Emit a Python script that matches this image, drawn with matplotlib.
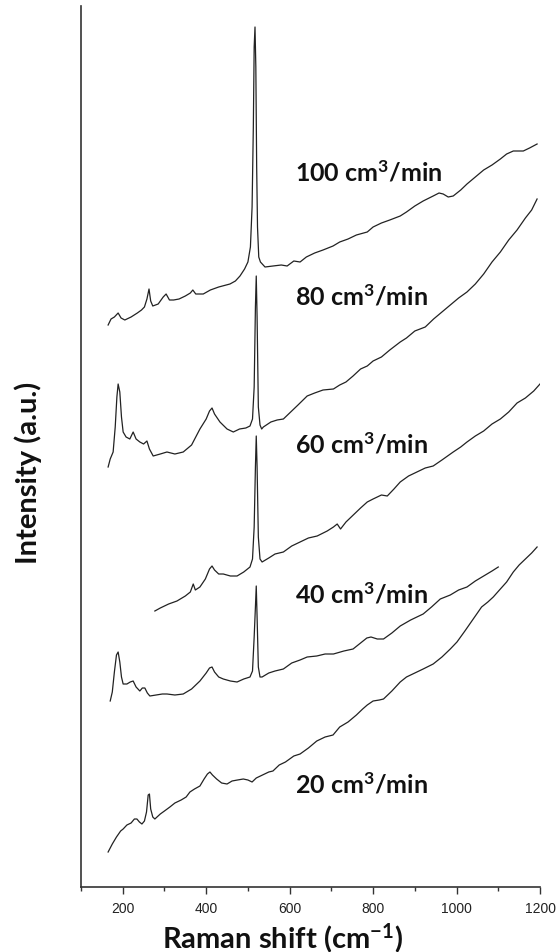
import matplotlib
matplotlib.use('Agg')
import matplotlib.pyplot as plt

plt.rcParams['font.family'] = ['Lato', 'DejaVu Sans']
plt.rcParams['mathtext.fontset'] = 'custom'
plt.rcParams['mathtext.rm'] = 'Lato:bold'
plt.rcParams['mathtext.default'] = 'rm'

# Raman spectra, offset-stacked (intensity in arbitrary units)
x_100 = [165, 172, 180, 189, 196, 205, 220, 235, 245, 252, 258, 263, 267, 272, 285, 297, 304, 312,
         322, 335, 350, 362, 368, 375, 393, 410, 430, 457, 470, 481, 492, 500, 506, 510, 513, 515,
         517, 519, 521, 523, 526, 530, 541, 560, 580, 594, 610, 625, 640, 660, 680, 704, 720, 740,
         760, 786, 800, 820, 840, 865, 880, 900, 920, 944, 958, 968, 980, 992, 1010, 1025, 1045,
         1065, 1085, 1105, 1120, 1136, 1148, 1160, 1175, 1193]
y_100 = [562, 568, 570, 574, 569, 567, 570, 574, 577, 580, 588, 598, 586, 581, 583, 590, 593, 587,
         587, 588, 591, 594, 597, 593, 593, 597, 600, 603, 606, 611, 618, 625, 640, 680, 760, 840,
         860, 820, 720, 660, 630, 625, 620, 621, 622, 621, 626, 625, 630, 634, 637, 641, 645, 648,
         652, 655, 660, 664, 667, 671, 675, 681, 686, 691, 694, 693, 690, 691, 697, 703, 710,
         717, 722, 728, 733, 736, 736, 736, 739, 743]

x_80 = [165, 170, 177, 182, 186, 189, 193, 197, 201, 208, 217, 225, 232, 241, 250, 258, 264, 273,
        290, 306, 325, 345, 365, 385, 400, 408, 414, 420, 433, 450, 465, 480, 495, 505, 511, 515,
        518, 520, 522, 525, 529, 533, 537, 555, 570, 585, 600, 620, 642, 660, 680, 705, 720, 735,
        752, 770, 786, 800, 820, 840, 865, 880, 900, 925, 945, 965, 985, 1005, 1025, 1045, 1065,
        1085, 1105, 1125, 1145, 1165, 1180, 1193]
y_80 = [420, 428, 435, 460, 490, 503, 495, 470, 455, 450, 448, 455, 448, 445, 443, 446, 438, 431,
        433, 435, 433, 435, 442, 458, 468, 476, 479, 473, 465, 458, 455, 458, 459, 461, 468, 500,
        580, 611, 570, 480, 462, 458, 460, 465, 467, 468, 474, 482, 491, 494, 497, 498, 502, 505,
        511, 518, 521, 526, 530, 537, 545, 549, 556, 560, 568, 575, 582, 589, 595, 603, 613,
        625, 635, 647, 657, 669, 677, 688]

x_60 = [277, 290, 310, 330, 350, 362, 369, 374, 385, 398, 408, 414, 420, 430, 441, 458, 474, 490,
        505, 511, 515, 518, 520, 522, 525, 529, 534, 550, 565, 585, 605, 625, 645, 666, 690, 705,
        714, 722, 735, 750, 770, 786, 800, 820, 834, 850, 865, 885, 905, 925, 944, 965, 992, 1010,
        1025, 1045, 1065, 1085, 1105, 1125, 1145, 1165, 1185, 1200]
y_60 = [276, 279, 283, 286, 291, 295, 303, 297, 300, 308, 318, 321, 317, 313, 313, 311, 311, 315,
        320, 328, 360, 420, 451, 420, 350, 328, 325, 329, 333, 335, 341, 345, 349, 351, 356, 360,
        363, 358, 365, 371, 379, 385, 388, 392, 391, 398, 405, 411, 415, 419, 421, 427, 435, 440,
        445, 451, 456, 463, 468, 475, 484, 489, 496, 503]

x_40 = [170, 175, 180, 185, 189, 193, 197, 201, 210, 218, 225, 232, 241, 247, 253, 259, 265, 280,
        295, 306, 325, 345, 365, 385, 400, 408, 414, 420, 430, 441, 458, 474, 490, 505, 511, 515,
        518, 520, 522, 525, 529, 534, 550, 565, 585, 605, 625, 642, 665, 685, 705, 730, 752, 770,
        785, 795, 810, 825, 845, 865, 890, 920, 940, 961, 985, 1005, 1025, 1045, 1065, 1085, 1100]
y_40 = [186, 195, 215, 232, 235, 225, 210, 203, 203, 205, 206, 200, 196, 199, 199, 194, 191, 192,
        193, 193, 192, 193, 198, 206, 214, 219, 220, 215, 210, 208, 206, 205, 208, 210, 216, 250,
        280, 301, 270, 220, 210, 210, 214, 216, 218, 224, 227, 230, 231, 233, 233, 236, 238, 244,
        249, 250, 248, 248, 254, 261, 267, 273, 280, 288, 292, 297, 300, 306, 311, 316, 320]

x_20 = [165, 175, 185, 195, 201, 210, 220, 228, 234, 240, 246, 252, 257, 261, 264, 267, 272, 277,
        290, 300, 313, 325, 340, 352, 361, 372, 385, 395, 403, 409, 415, 425, 437, 450, 462, 475,
        489, 500, 510, 520, 535, 550, 560, 575, 590, 610, 625, 645, 665, 685, 704, 720, 740, 760,
        775, 786, 800, 815, 825, 845, 865, 880, 900, 920, 944, 965, 985, 1001, 1020, 1040, 1060,
        1075, 1088, 1105, 1120, 1136, 1150, 1165, 1180, 1193]
y_20 = [35, 43, 50, 56, 58, 62, 64, 68, 68, 65, 63, 66, 75, 92, 93, 78, 70, 68,
        73, 76, 80, 84, 87, 90, 95, 98, 101, 108, 113, 115, 112, 108, 104, 103, 106, 107,
        108, 107, 105, 109, 112, 115, 116, 122, 125, 131, 133, 139, 146, 150, 152, 160, 165, 172,
        178, 182, 186, 187, 188, 196, 205, 210, 214, 218, 223, 230, 238, 245, 256, 268, 280,
        285, 290, 298, 305, 315, 322, 328, 334, 340]

labels = ['100 cm$^{3}$/min', '80 cm$^{3}$/min', '60 cm$^{3}$/min', '40 cm$^{3}$/min', '20 cm$^{3}$/min']
label_y = [715, 591, 443, 293, 103]

fig = plt.figure(figsize=(5.57, 9.53), dpi=100)
ax = fig.add_axes([81 / 557, 65 / 953, 459 / 557, 881 / 953])

for xs, ys in [(x_100, y_100), (x_80, y_80), (x_60, y_60), (x_40, y_40), (x_20, y_20)]:
    ax.plot(xs, ys, color='#222222', lw=0.9)

for lab, ly in zip(labels, label_y):
    ax.text(613, ly, lab, fontsize=18, fontweight='bold', va='center', ha='left', color='#111111')

ax.set_xlim(100, 1200)
ax.set_ylim(0, 881)
ax.spines['top'].set_visible(False)
ax.spines['right'].set_visible(False)
for s in ['left', 'bottom']:
    ax.spines[s].set_linewidth(1.2)
    ax.spines[s].set_color('#333333')
ax.set_yticks([])
ax.set_xticks(range(200, 1201, 200))
ax.set_xticks(range(100, 1201, 100), minor=True)
ax.tick_params(axis='x', which='major', direction='out', length=5, width=1, color='#333333')
ax.tick_params(axis='x', which='minor', direction='out', length=3, width=1, color='#333333')
ax.tick_params(axis='x', labelsize=10, labelcolor='#222222', pad=5)
for t in ax.get_xticklabels():
    t.set_fontfamily('Liberation Sans')

fig.text(283 / 557, 1 - 938 / 953, 'Raman shift (cm$^{-1}$)', fontsize=21, fontweight='bold',
         ha='center', va='center', color='#111111')
fig.text(28 / 557, 1 - 473 / 953, 'Intensity (a.u.)', fontsize=21, fontweight='bold',
         rotation=90, ha='center', va='center', color='#111111')

fig.savefig('out.png', dpi=100)
